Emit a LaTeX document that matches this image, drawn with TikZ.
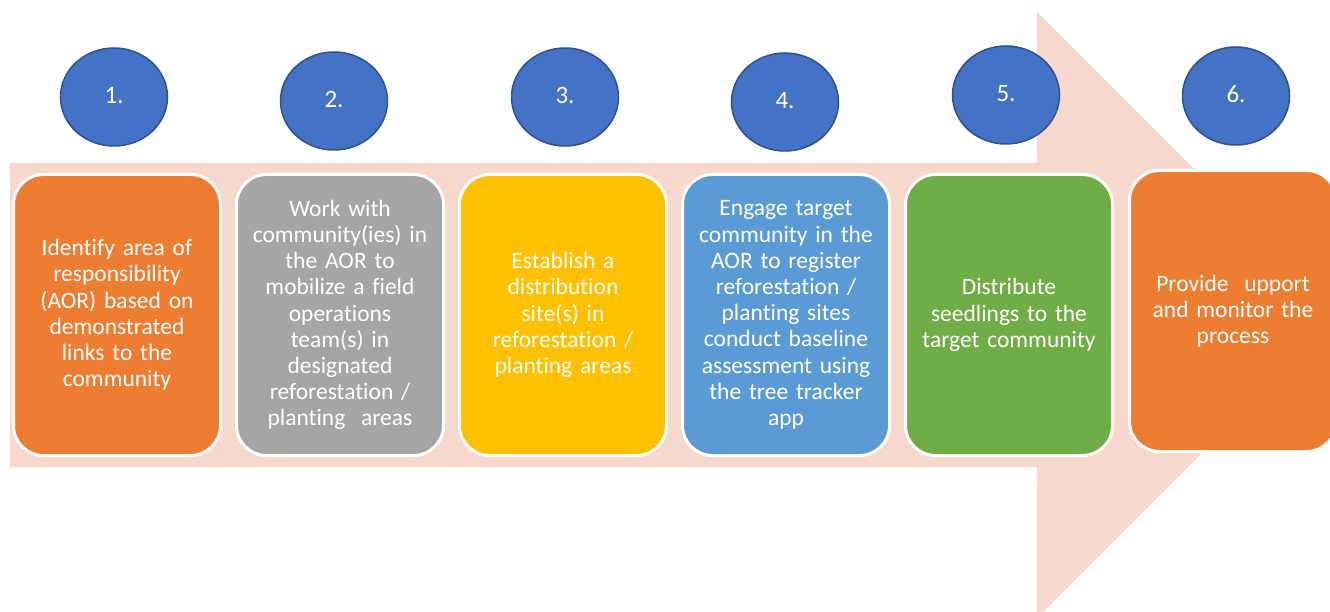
\documentclass[tikz,border=0pt]{standalone}
\usepackage{fontspec}
\setmainfont{Carlito}[Ligatures=NoCommon]
\usetikzlibrary{shapes.geometric}
\definecolor{arrowfill}{HTML}{F7D8CD}
\definecolor{numfill}{HTML}{4472C4}
\definecolor{numdraw}{HTML}{2F528F}
\definecolor{cOrange}{HTML}{ED7D31}
\definecolor{cGray}{HTML}{A5A5A5}
\definecolor{cYellow}{HTML}{FFC000}
\definecolor{cBlue}{HTML}{5B9BD5}
\definecolor{cGreen}{HTML}{70AD47}
\tikzset{
  stepbox/.style={draw=white, line width=3pt, rounded corners=30pt,
    minimum width=207pt, minimum height=281pt, inner sep=0pt,
    text=white, align=center, text width=200pt,
    font=\fontsize{23.5}{26.2}\selectfont},
  numdisc/.style={ellipse, draw=numdraw, line width=1.5pt, fill=numfill,
    minimum width=107pt, minimum height=98pt, inner sep=0pt,
    text=white, font=\fontsize{25}{30}\selectfont}
}
\begin{document}
\begin{tikzpicture}[x=1pt,y=-1pt]
\useasboundingbox (0,0) rectangle (1330,612);
\clip (0,0) rectangle (1330,612);
\fill[arrowfill] (10,163) -- (1037,163) -- (1037,12) -- (1340,315)
  -- (1037,618) -- (1037,467) -- (10,467) -- cycle;
\node[numdisc] (n1) at (114,97) {\raisebox{4pt}{1.}};
\node[numdisc] (n2) at (334,101) {\raisebox{4pt}{2.}};
\node[numdisc] (n3) at (565,97) {\raisebox{4pt}{3.}};
\node[numdisc] (n4) at (785,102) {\raisebox{4pt}{4.}};
\node[numdisc] (n5) at (1006,95) {\raisebox{4pt}{5.}};
\node[numdisc] (n6) at (1236,96) {\raisebox{4pt}{6.}};
\node[stepbox, fill=cOrange] (b1) at (117,315) {Identify area of\\responsibility\\(AOR) based on\\demonstrated\\links to the\\community};
\node[stepbox, fill=cGray] (b2) at (340,315) {Work with\\community(ies) in\\the AOR to\\mobilize a field\\operations\\team(s) in\\designated\\reforestation /\\planting~ areas};
\node[stepbox, fill=cYellow] (b3) at (563,315) {Establish a\\distribution\\site(s) in\\reforestation /\\planting areas};
\node[stepbox, fill=cBlue] (b4) at (786,315) {Engage target\\community in the\\AOR to register\\reforestation /\\planting sites\\conduct baseline\\assessment using\\the tree tracker\\app};
\node[stepbox, fill=cGreen] (b5) at (1009,315) {Distribute\\seedlings to the\\target community};
\node[stepbox, fill=cOrange] (b6) at (1233,311) {Provide~ upport\\and monitor the\\process};
\end{tikzpicture}
\end{document}
